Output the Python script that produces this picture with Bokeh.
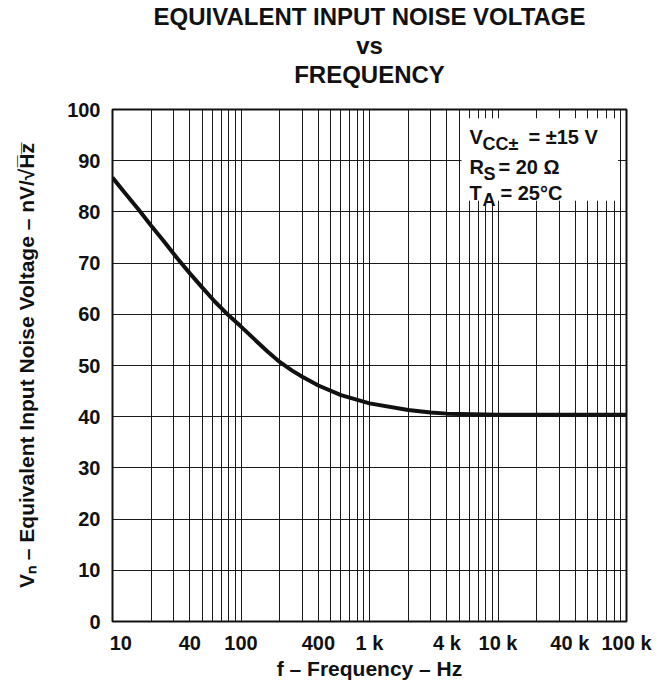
from bokeh.plotting import figure
from bokeh.models import FixedTicker, Range1d, Label, BoxAnnotation, Title
from bokeh.embed import file_html
from bokeh.resources import INLINE

# Equivalent input noise voltage (nV/sqrt(Hz)) versus frequency (Hz)
freq_hz = [10, 12.5, 16, 20, 25, 32, 40, 50, 63, 80, 100, 130, 160, 200, 250,
           300, 400, 600, 1000, 2000, 3000, 4000, 10000, 100000]
noise_nv = [86.7, 83.7, 80.4, 77.3, 74.3, 70.9, 68.0, 65.2, 62.4, 59.8, 57.6,
            54.9, 52.8, 50.7, 49.0, 47.8, 46.1, 44.2, 42.6, 41.3, 40.8, 40.6,
            40.4, 40.4]

y_ticks = [0, 10, 20, 30, 40, 50, 60, 70, 80, 90, 100]
x_label_ticks = [10, 40, 100, 400, 1000, 4000, 10000, 40000, 100000]
x_label_text = ["\u00a0\u00a0\u00a010", "40", "100", "400", "1 k", "4 k", "10 k",
                "40 k\u00a0\u00a0", "100 k"]
x_grid_ticks = [m * 10 ** d for d in range(1, 5) for m in range(1, 10)] + [100000]

title_lines = ["EQUIVALENT INPUT NOISE VOLTAGE", "vs", "FREQUENCY"]

FONT = "Liberation Sans"
INK = "#111111"

p = figure(width=667, height=685, x_axis_type="log",
           x_range=Range1d(10, 100000), y_range=Range1d(0, 100),
           output_backend="svg", toolbar_location=None,
           min_border_left=112, min_border_right=41,
           min_border_top=109, min_border_bottom=64)

p.background_fill_color = "white"
p.border_fill_color = "white"
p.outline_line_color = INK
p.outline_line_width = 2

# blank strip between the frame and the title block
p.add_layout(Title(text=" ", text_font_size="8px", standoff=9), "above")

# three title lines, stacked outward from the frame
for text in reversed(title_lines):
    p.add_layout(Title(text=text, align="center", vertical_align="top",
                       standoff=0, text_font=FONT,
                       text_font_size="24px", text_font_style="bold",
                       text_color=INK), "above")

# grid: every decade sub-division on x, every 10 nV on y
p.xgrid.ticker = FixedTicker(ticks=x_grid_ticks)
p.ygrid.ticker = FixedTicker(ticks=y_ticks)
p.grid.grid_line_color = "#1a1a1a"
p.grid.grid_line_width = 1
p.grid.grid_line_alpha = 1.0

p.xaxis.ticker = FixedTicker(ticks=x_label_ticks)
p.xaxis.major_label_overrides = {t: s for t, s in zip(x_label_ticks, x_label_text)}
p.yaxis.ticker = FixedTicker(ticks=y_ticks)

for ax in (p.xaxis[0], p.yaxis[0]):
    ax.axis_line_color = None
    ax.major_tick_line_color = None
    ax.minor_tick_line_color = None
    ax.major_tick_out = 0
    ax.major_tick_in = 0
    ax.minor_tick_out = 0
    ax.minor_tick_in = 0
    ax.major_label_text_font = FONT
    ax.major_label_text_font_size = "20px"
    ax.major_label_text_font_style = "bold"
    ax.major_label_text_color = INK
    ax.axis_label_text_font = FONT
    ax.axis_label_text_font_size = "21px"
    ax.axis_label_text_font_style = "bold"
    ax.axis_label_text_color = INK

p.xaxis.major_label_standoff = 10
p.xaxis.axis_label = "f \u2013 Frequency \u2013 Hz"
p.xaxis.axis_label_standoff = 0
p.yaxis.major_label_standoff = 12
p.yaxis.axis_label = "V\u2099 \u2013 Equivalent Input Noise Voltage \u2013 nV/\u221aH\u0305z\u0305"
p.yaxis.axis_label_standoff = 26

# noise curve
p.line(freq_hz, noise_nv, line_color=INK, line_width=4)

# conditions box in the upper right corner
p.add_layout(BoxAnnotation(left=5200, right=86000, bottom=82.2, top=98.3,
                           fill_color="white", fill_alpha=1.0, line_color=None))

def put(x_off, y, text, sub=False):
    p.add_layout(Label(x=6000, y=y, x_offset=x_off, y_offset=-7 if sub else 0,
                       text=text, text_font=FONT,
                       text_font_size="18px" if sub else "20px",
                       text_font_style="bold", text_color=INK,
                       text_baseline="alphabetic", text_align="left"))

put(0, 94.6, "V")
put(13, 94.6, "CC\u00b1", sub=True)
put(59, 94.6, "= \u00b115 V")
put(0, 88.7, "R")
put(14, 88.7, "S", sub=True)
put(29, 88.7, "= 20 \u03a9")
put(0, 83.6, "T")
put(13, 83.6, "A", sub=True)
put(31, 83.6, "= 25\u00b0C")

open("out.html", "w").write(file_html(p, INLINE))
